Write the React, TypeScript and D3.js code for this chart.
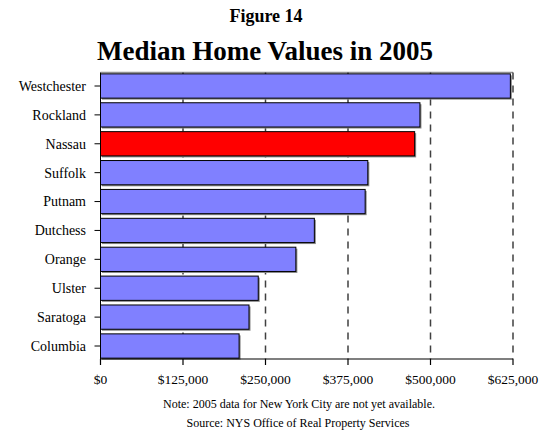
import React from "react";
import * as d3 from "d3";

const counties = ["Westchester", "Rockland", "Nassau", "Suffolk", "Putnam", "Dutchess", "Orange", "Ulster", "Saratoga", "Columbia"];
const medianValues = [621000, 484000, 476000, 405000, 401000, 324000, 296000, 239000, 225000, 210000];
const highlight = ["Nassau"];
const xTicks = [0, 125000, 250000, 375000, 500000, 625000];
const titleTop = "Figure 14";
const titleMain = "Median Home Values in 2005";
const notes = ["Note: 2005 data for New York City are not yet available.", "Source: NYS Office of Real Property Services"];

const W = 549, H = 432;
const left = 100.5, right = 513, top = 72.5, bottom = 359;
const font = "'Liberation Serif', 'Times New Roman', serif";

export default function App() {
  const x = d3.scaleLinear().domain([0, 625000]).range([left, right]);
  const y = d3.scaleBand<string>().domain(counties).range([top + 0.5, bottom]).paddingInner(0.16).paddingOuter(0.03);
  const fmt = (v: number) => "$" + d3.format(",")(v);
  return (
    <svg width={W} height={H} style={{ position: "absolute", left: 0, top: 0 }} fontFamily={font}>
      <rect width={W} height={H} fill="#fff" />
      <text x={266} y={22} textAnchor="middle" fontSize={18} fontWeight="bold">{titleTop}</text>
      <text x={265} y={60} textAnchor="middle" fontSize={27} fontWeight="bold">{titleMain}</text>
      {/* top border */}
      <line x1={left} x2={right} y1={top} y2={top} stroke="#909090" strokeWidth={1.5} />
      {/* gridlines */}
      {xTicks.slice(1).map((t) => (
        <line key={t} x1={x(t)} x2={x(t)} y1={top} y2={bottom} stroke="#404040" strokeWidth={1.5} strokeDasharray="7,6" />
      ))}
      {counties.map((c, i) => {
        const yy = y(c)!;
        const w = x(medianValues[i]) - x(0);
        return (
          <g key={c}>
            <rect x={left + 1.5} y={yy + 1.5} width={w} height={y.bandwidth()} fill="#888" />
            <rect x={left} y={yy} width={w} height={y.bandwidth()} fill={highlight.includes(c) ? "#FF0000" : "#8080FF"} stroke="#000" strokeWidth={1} />
            <line x1={left - 6} x2={left} y1={yy + y.bandwidth() / 2} y2={yy + y.bandwidth() / 2} stroke="#000" strokeWidth={1} />
            <text x={86} y={yy + y.bandwidth() / 2} dy="0.35em" textAnchor="end" fontSize={14}>{c}</text>
          </g>
        );
      })}
      {/* axes */}
      <line x1={left} x2={left} y1={top} y2={bottom} stroke="#000" strokeWidth={1} />
      <line x1={left} x2={right} y1={bottom} y2={bottom} stroke="#000" strokeWidth={1.2} />
      {xTicks.map((t) => (
        <g key={t}>
          <line x1={x(t)} x2={x(t)} y1={bottom} y2={bottom + 6} stroke="#000" strokeWidth={1.2} />
          <text x={x(t)} y={384} textAnchor="middle" fontSize={13.5}>{fmt(t)}</text>
        </g>
      ))}
      <text x={299} y={408} textAnchor="middle" fontSize={12}>{notes[0]}</text>
      <text x={298} y={427} textAnchor="middle" fontSize={12}>{notes[1]}</text>
    </svg>
  );
}
